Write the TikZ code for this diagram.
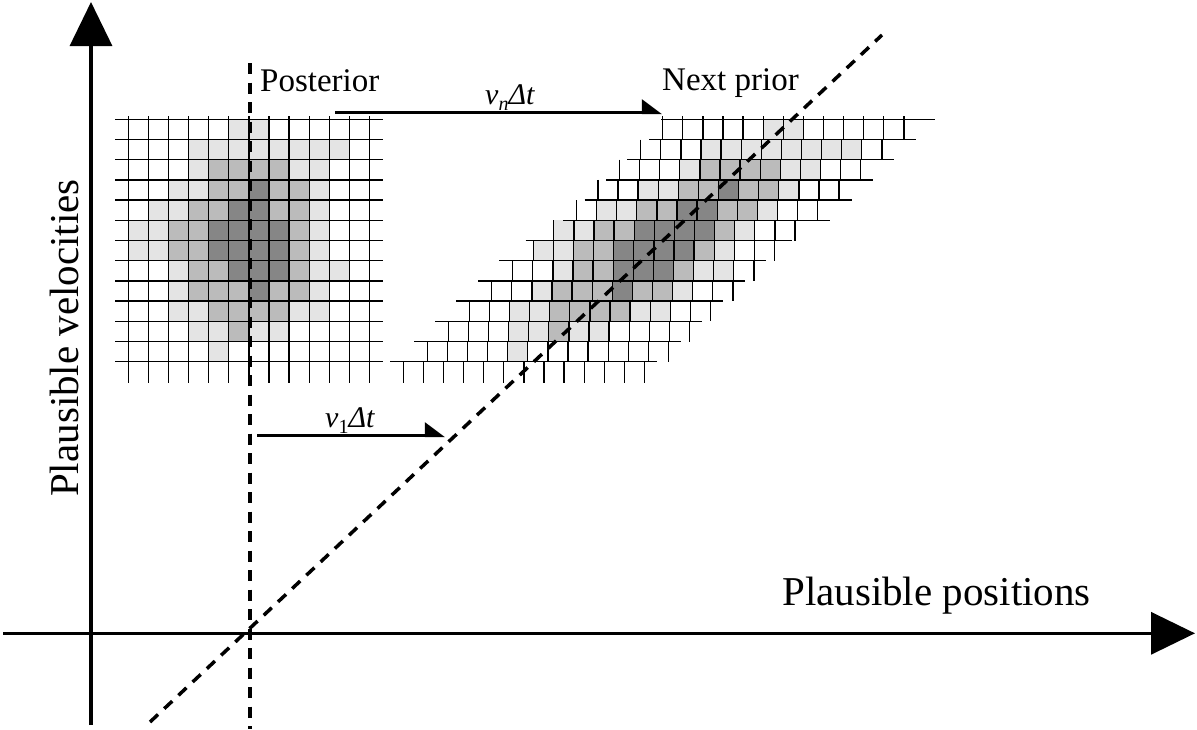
\documentclass[tikz,border=0pt]{standalone}
\usepackage{fontspec}
\setmainfont{Liberation Serif}
\usetikzlibrary{arrows.meta}
\definecolor{g1}{HTML}{E4E4E4}
\definecolor{g2}{HTML}{BBBBBB}
\definecolor{g3}{HTML}{868686}
\begin{document}
\begin{tikzpicture}[x=1pt,y=-1pt,
  gridline/.style={line width=1.25pt, black},
  axisline/.style={line width=3.3pt, -{Triangle[length=44pt,width=42pt]}},
  shiftarrow/.style={line width=3.2pt, -{Triangle[left,length=18pt,width=26pt]}},
  dashline/.style={line width=3.5pt, dash pattern=on 11pt off 8.5pt},
  lbl/.style={inner sep=0pt, font=\fontsize{33}{33}\selectfont},
  biglbl/.style={inner sep=0pt, font=\fontsize{41}{41}\selectfont},
  mathlbl/.style={inner sep=0pt, font=\fontsize{30}{30}\selectfont\itshape},
]
\useasboundingbox (0,0) rectangle (1197,729);
\def\gx{128.3}\def\gy{119.3}\def\dx{20.1}\def\dy{20.2}
\def\shifts{{534.4,512.4,491.2,469.6,448.2,425.5,405,384.4,363.4,341,320,299,275}}
\def\cells{0/5/1,0/6/1,
1/3/1,1/4/1,1/5/1,1/6/1,1/7/1,1/8/1,1/9/1,1/10/1,
2/3/1,2/4/2,2/5/2,2/6/2,2/7/2,2/8/1,2/9/1,
3/2/1,3/3/1,3/4/2,3/5/2,3/6/3,3/7/2,3/8/2,3/9/1,
4/1/1,4/2/1,4/3/2,4/4/2,4/5/3,4/6/3,4/7/2,4/8/2,4/9/1,
5/0/1,5/1/1,5/2/2,5/3/2,5/4/3,5/5/3,5/6/3,5/7/3,5/8/2,5/9/1,
6/0/1,6/1/1,6/2/2,6/3/2,6/4/3,6/5/3,6/6/3,6/7/3,6/8/2,6/9/1,
7/2/1,7/3/2,7/4/2,7/5/3,7/6/3,7/7/3,7/8/2,7/9/1,7/10/1,
8/2/1,8/3/2,8/4/2,8/5/2,8/6/3,8/7/2,8/8/2,8/9/1,
9/2/1,9/3/1,9/4/2,9/5/2,9/6/2,9/7/2,9/8/1,9/9/1,
10/3/1,10/4/1,10/5/2,10/6/1,10/7/1,
11/4/1}
% shaded cells: posterior (left) and sheared prior (right)
\foreach \r/\c/\g in \cells {
  \pgfmathsetmacro\s{\shifts[\r]}
  \fill[g\g] ({\gx+\c*\dx},{\gy+\r*\dy}) rectangle +(\dx,\dy);
  \fill[g\g] ({\gx+\c*\dx+\s},{\gy+\r*\dy}) rectangle +(\dx,\dy);
}
% left grid lines
\foreach \k in {0,...,12} {
  \draw[gridline] (115,{\gy+\k*\dy}) -- (383,{\gy+\k*\dy});
  \draw[gridline] ({\gx+\k*\dx},116) -- ({\gx+\k*\dx},383);
}
% right grid: vertical lines per row
\foreach \r in {0,...,12} {
  \pgfmathsetmacro\s{\shifts[\r]}
  \pgfmathsetmacro\ya{\r==0 ? 116 : \gy+\r*\dy}
  \pgfmathsetmacro\yb{\r==12 ? 383 : \gy+(\r+1)*\dy}
  \foreach \k in {0,...,12}
    \draw[gridline] ({\gx+\k*\dx+\s},\ya) -- ({\gx+\k*\dx+\s},\yb);
}
% right grid: horizontal lines
\draw[gridline] (661,\gy) -- (935,\gy);
\foreach \k in {1,...,5} {
  \pgfmathtruncatemacro\i{\k-1}
  \pgfmathsetmacro\s{\shifts[\i]}
  \draw[gridline] ({115+\s},{\gy+\k*\dy}) -- ({382+\s},{\gy+\k*\dy});
}
\draw[gridline] (525.7,{\gy+6*\dy}) -- (791.7,{\gy+6*\dy});
\foreach \k in {7,...,12} {
  \pgfmathsetmacro\s{\shifts[\k]}
  \draw[gridline] ({115+\s},{\gy+\k*\dy}) -- ({382+\s},{\gy+\k*\dy});
}
% axes
\coordinate (yb) at (91,725);
\coordinate (yt) at (91,2);
\coordinate (xl) at (3,633.3);
\coordinate (xr) at (1195,633.3);
\draw[axisline] (yb) -- (yt);
\draw[axisline] (xl) -- (xr);
% dashed lines
\coordinate (vt) at (250,63);
\coordinate (vb) at (250,729);
\coordinate (dl) at (150,722);
\coordinate (du) at (882,35);
\draw[dashline] (vt) -- (vb);
\draw[dashline] (dl) -- (du);
% shift arrows
\coordinate (ans) at (335,112.5);
\coordinate (ane) at (662,112.5);
\coordinate (a1s) at (257,435.5);
\coordinate (a1e) at (445,435.5);
\draw[shiftarrow] (ans) -- (ane);
\draw[shiftarrow] (a1s) -- (a1e);
% labels
\node[lbl, anchor=base west] (post) at (260,91.7) {Posterior};
\node[lbl, anchor=base west] (next) at (662,90) {Next prior};
\node[mathlbl, anchor=base west] (vn) at (485,104) {v\raisebox{-0.22em}{\fontsize{20}{20}\selectfont n}Δt};
\node[mathlbl, anchor=base west] (v1) at (325,427) {v\raisebox{-0.22em}{\fontsize{20}{20}\selectfont\upshape 1}Δt};
\node[biglbl, anchor=base west] (xlab) at (782,605) {Plausible positions};
\node[biglbl, anchor=base west, rotate=90] (ylab) at (78,497) {Plausible velocities};
\end{tikzpicture}
\end{document}
